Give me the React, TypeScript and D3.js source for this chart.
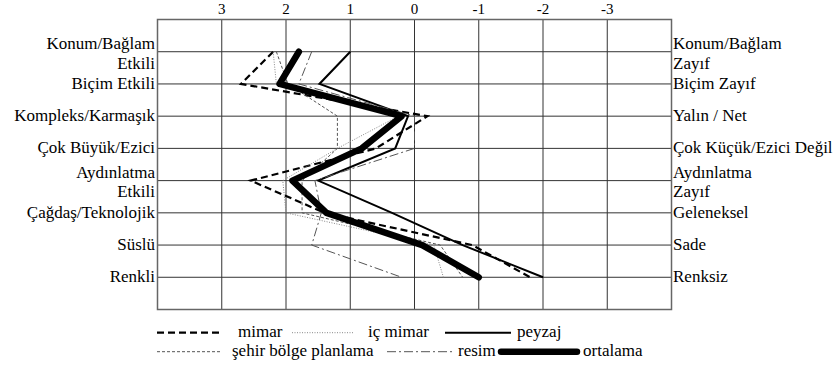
import React from "react";
import * as d3 from "d3";

const leftLabels: string[][] = [
  ["Konum/Bağlam", "Etkili"],
  ["Biçim Etkili"],
  ["Kompleks/Karmaşık"],
  ["Çok Büyük/Ezici"],
  ["Aydınlatma", "Etkili"],
  ["Çağdaş/Teknolojik"],
  ["Süslü"],
  ["Renkli"],
];
const rightLabels: string[][] = [
  ["Konum/Bağlam", "Zayıf"],
  ["Biçim Zayıf"],
  ["Yalın / Net"],
  ["Çok Küçük/Ezici Değil"],
  ["Aydınlatma", "Zayıf"],
  ["Geleneksel"],
  ["Sade"],
  ["Renksiz"],
];
const tickValues = [3, 2, 1, 0, -1, -2, -3];

const mimar = [2.2, 2.7, -0.2, 0.6, 2.55, 1.4, -0.9, -1.8];
const icMimar = [2.2, 2.15, 0.25, 1.2, 2.05, 2.0, -0.3, -0.45];
const peyzaj = [1.0, 1.48, 0.1, 0.3, 1.5, 0.35, -0.75, -2.0];
const sehir = [2.15, 1.97, 1.2, 1.2, 1.75, 1.75, -0.4, -0.75];
const resim = [1.6, 1.8, 0.0, 0.0, 1.55, 1.45, 1.6, 0.2];
const ortalama = [1.8, 2.1, 0.2, 0.82, 1.9, 1.37, -0.12, -1.0];

const seriesNames = ["mimar", "iç mimar", "peyzaj", "şehir bölge planlama", "resim", "ortalama"];

type Style = { stroke: string; width: number; dash?: string; cap?: "round" | "butt" };
const styles: Style[] = [
  { stroke: "#000", width: 2.2, dash: "7,4" },
  { stroke: "#888", width: 1, dash: "1,1.5" },
  { stroke: "#000", width: 2 },
  { stroke: "#555", width: 1, dash: "3,2" },
  { stroke: "#555", width: 1, dash: "9,3,2,3" },
  { stroke: "#000", width: 6.5, cap: "round" },
];

const W = 835;
const H = 365;
const FONT = "Liberation Serif, DejaVu Serif, serif";
const txt = { fontFamily: FONT } as React.CSSProperties;

export default function App() {
  const x = d3.scaleLinear().domain([4, -4]).range([157.5, 671.5]);
  const y = d3.scaleLinear().domain([0, 9]).range([19.5, 309.5]);
  const rowY = (i: number) => y(i + 1);
  const all = [mimar, icMimar, peyzaj, sehir, resim, ortalama];
  const line = d3
    .line<number>()
    .x((d) => x(d))
    .y((_, i) => rowY(i));
  const gridX = d3.range(-3, 4);

  const legend = [
    { x1: 157, x2: 223, tx: 238, row: 0 },
    { x1: 292, x2: 354, tx: 368, row: 0 },
    { x1: 445, x2: 511, tx: 517, row: 0 },
    { x1: 157, x2: 221, tx: 232, row: 1 },
    { x1: 387, x2: 452, tx: 458, row: 1 },
    { x1: 501, x2: 577, tx: 583, row: 1 },
  ];
  const legLineY = [332.7, 351.7];
  const legTextY = [337, 355.5];

  return (
    <svg
      width={W}
      height={H}
      style={{ position: "absolute", left: 0, top: 0, background: "#fff", fontFamily: FONT }}
    >
      {gridX.map((v) => (
        <line key={"gx" + v} x1={x(v)} x2={x(v)} y1={y(0)} y2={y(9)} stroke="#333" strokeWidth={1} />
      ))}
      {leftLabels.map((_, i) => (
        <line key={"gy" + i} x1={x(4)} x2={x(-4)} y1={rowY(i)} y2={rowY(i)} stroke="#333" strokeWidth={1} />
      ))}
      <rect x={x(4)} y={y(0)} width={x(-4) - x(4)} height={y(9) - y(0)} fill="none" stroke="#666" strokeWidth={1.5} />

      {tickValues.map((v) => (
        <text key={"t" + v} x={x(v)} y={13.5} textAnchor="middle" fontSize={15} fill="#000" style={txt}>
          {v}
        </text>
      ))}

      {leftLabels.map((lab, i) =>
        lab.map((s, j) => (
          <text
            key={"l" + i + j}
            x={155}
            y={lab.length === 2 ? rowY(i) - 2.5 + j * 19.3 : rowY(i) + 5}
            textAnchor="end"
            fontSize={17}
            fill="#000"
            style={txt}
          >
            {s}
          </text>
        ))
      )}
      {rightLabels.map((lab, i) =>
        lab.map((s, j) => (
          <text
            key={"r" + i + j}
            x={673}
            y={lab.length === 2 ? rowY(i) - 2.5 + j * 19.3 : rowY(i) + 5}
            textAnchor="start"
            fontSize={17}
            fill="#000"
            style={txt}
          >
            {s}
          </text>
        ))
      )}

      {all.map((data, k) => (
        <path
          key={"s" + k}
          d={line(data) || ""}
          fill="none"
          stroke={styles[k].stroke}
          strokeWidth={styles[k].width}
          strokeDasharray={styles[k].dash}
          strokeLinecap={styles[k].cap || "butt"}
          strokeLinejoin={styles[k].cap === "round" ? "round" : "miter"}
        />
      ))}

      {legend.map((lg, k) => (
        <g key={"lg" + k}>
          <line
            x1={lg.x1}
            x2={lg.x2}
            y1={legLineY[lg.row]}
            y2={legLineY[lg.row]}
            stroke={styles[k].stroke}
            strokeWidth={styles[k].width}
            strokeDasharray={styles[k].dash}
            strokeLinecap={styles[k].cap || "butt"}
          />
          <text x={lg.tx} y={legTextY[lg.row]} fontSize={17} fill="#000" style={txt}>
            {seriesNames[k]}
          </text>
        </g>
      ))}
    </svg>
  );
}
